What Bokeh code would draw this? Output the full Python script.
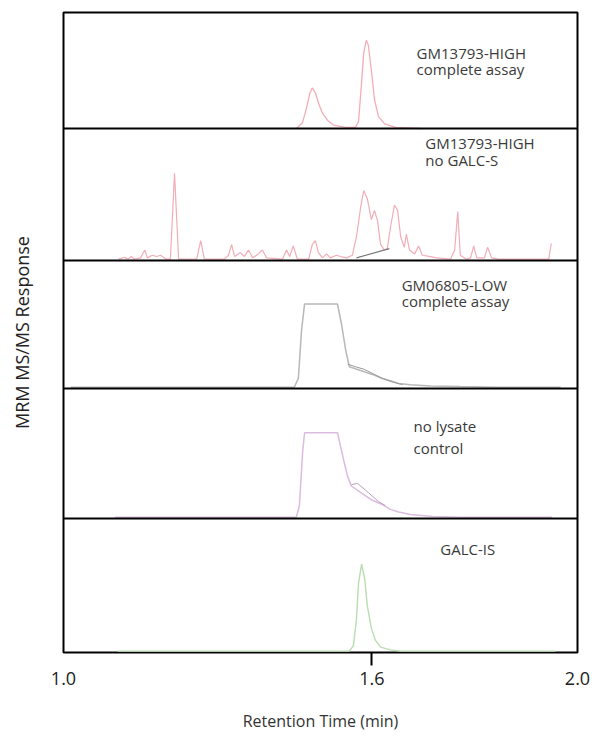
from bokeh.plotting import figure
from bokeh.models import Range1d, FixedTicker, LinearAxis, Span, Grid, NumeralTickFormatter
from bokeh.core.properties import value
from bokeh.embed import file_html
from bokeh.resources import INLINE

# ---------------- data (retention time in min, response in % of panel height) ----------------
rt_high = [1.453, 1.465, 1.473, 1.479, 1.484, 1.490, 1.496, 1.504, 1.514, 1.525, 1.549, 1.568,
           1.574, 1.580, 1.584, 1.589, 1.593, 1.599, 1.605, 1.613, 1.625, 1.646, 1.695]
int_high = [0, 5, 18, 30, 35, 31, 22, 13, 7, 3, 1, 1,
            6, 40, 65, 76, 72, 50, 25, 10, 4, 1, 0]

rt_nos = [1.107, 1.119, 1.125, 1.132, 1.138, 1.150, 1.158, 1.163, 1.173, 1.181, 1.189, 1.200,
          1.208, 1.216, 1.224, 1.259, 1.267, 1.274, 1.313, 1.321, 1.327, 1.333, 1.344, 1.352,
          1.360, 1.368, 1.379, 1.387, 1.395, 1.426, 1.434, 1.440, 1.447, 1.455, 1.477, 1.484,
          1.490, 1.496, 1.504, 1.512, 1.519, 1.531, 1.539, 1.551, 1.562, 1.570, 1.578, 1.584,
          1.591, 1.599, 1.605, 1.611, 1.617, 1.624, 1.630, 1.636, 1.644, 1.650, 1.656, 1.663,
          1.667, 1.673, 1.683, 1.691, 1.698, 1.714, 1.726, 1.753, 1.761, 1.767, 1.772, 1.784,
          1.792, 1.798, 1.804, 1.819, 1.825, 1.833, 1.846, 1.944, 1.949]
int_nos = [1, 2.5, 1, 3, 1, 2, 8, 2, 4, 3, 4, 1,
           1, 66, 1, 1, 15, 1, 1, 4, 12, 3, 6, 3,
           8, 2, 5, 8, 2, 1, 8, 3, 11, 1, 1, 12,
           15, 6, 2, 5, 2, 4, 3, 2, 4, 18, 40, 53,
           47, 31, 38, 30, 12, 8, 9, 25, 42, 38, 18, 10,
           20, 8, 5, 11, 4, 3, 2, 1, 8, 37, 4, 1,
           2, 11, 2, 2, 10, 2, 1, 1, 13]
rt_nos_base = [1.570, 1.634]
int_nos_base = [2, 9]

rt_low = [1.014, 1.449, 1.457, 1.463, 1.469, 1.533, 1.541, 1.549, 1.556, 1.578, 1.601, 1.619,
          1.636, 1.652, 1.675, 1.714, 1.772, 1.850, 1.967]
int_low = [1, 1, 8, 45, 66, 66, 50, 30, 17, 14, 11, 8,
           6, 4, 3, 2, 1.5, 1, 1]
rt_low2 = [1.553, 1.568, 1.585, 1.600, 1.620, 1.640, 1.660]
int_low2 = [19, 17, 15, 12, 8, 5, 3]

rt_nol = [1.100, 1.453, 1.459, 1.465, 1.469, 1.533, 1.541, 1.545, 1.553, 1.560, 1.582, 1.601,
          1.619, 1.636, 1.652, 1.675, 1.718, 1.772, 1.950]
int_nol = [1, 1, 10, 50, 66, 66, 52, 45, 32, 25, 19, 14,
           11, 7, 5, 3, 1.5, 1, 1]
rt_nol2 = [1.560, 1.572, 1.593, 1.613, 1.626]
int_nol2 = [26, 27, 20, 13, 10]

rt_is = [1.105, 1.556, 1.564, 1.570, 1.574, 1.580, 1.586, 1.591, 1.599, 1.607, 1.617, 1.636,
         1.656, 1.957]
int_is = [1, 1, 5, 25, 52, 66, 55, 35, 18, 9, 4, 2, 1, 1]

x_ticks = [1.0, 1.6, 2.0]
marked_tick = [1.6]
panel_titles = [["GM13793-HIGH", "complete assay"],
                ["GM13793-HIGH", "no GALC-S"],
                ["GM06805-LOW", "complete assay"],
                ["no lysate", "control"],
                ["GALC-IS"]]
y_title = "MRM MS/MS Response"
x_title = "Retention Time (min)"

# ---------------- layout ----------------
FRAME_H = 640
# panel bottoms/tops in frame pixels measured from the bottom (top panel first)
panel_edges = [(524, 640), (392, 524), (264, 392), (134, 264), (0, 134)]
title_pos = [(1.687, [65.5, 51.7]), (1.704, [89, 76]), (1.658, [80.5, 68]),
             (1.681, [71.5, 54.6]), (1.733, [77])]

p = figure(frame_width=514, frame_height=FRAME_H,
           x_range=Range1d(1.0, 2.0), y_range=Range1d(0, FRAME_H),
           output_backend="svg", toolbar_location=None,
           x_axis_location=None, y_axis_location=None,
           min_border_left=63, min_border_right=20, min_border_top=12, min_border_bottom=4)
p.background_fill_color = "white"
p.border_fill_color = "white"
p.outline_line_color = "black"
p.outline_line_width = 2
p.center = [r for r in p.center if not isinstance(r, Grid)]

for i, (b, t) in enumerate(panel_edges):
    p.extra_y_ranges["p%d" % i] = Range1d(-b / (t - b) * 100, (FRAME_H - b) / (t - b) * 100)

for b, t in panel_edges[:-1]:
    p.add_layout(Span(location=b, dimension="width", line_color="black", line_width=2))

pink = "#f2adb6"
p.line(rt_high, int_high, y_range_name="p0", line_color=pink, line_width=1.3)
p.line(rt_nos, int_nos, y_range_name="p1", line_color=pink, line_width=1.2)
p.line(rt_nos_base, int_nos_base, y_range_name="p1", line_color="#777777", line_width=1.1)
p.line(rt_low, int_low, y_range_name="p2", line_color="#b8b8b8", line_width=1.5)
p.line(rt_low2, int_low2, y_range_name="p2", line_color="#9a9a9a", line_width=1.0)
p.line(rt_nol, int_nol, y_range_name="p3", line_color="#dbbbdf", line_width=1.5)
p.line(rt_nol2, int_nol2, y_range_name="p3", line_color="#b9a0bd", line_width=1.0)
p.line(rt_is, int_is, y_range_name="p4", line_color="#b8ddb0", line_width=1.4)

for i, lines in enumerate(panel_titles):
    x0, ys = title_pos[i]
    p.text(x=[x0] * len(lines), y=ys, text=lines, y_range_name="p%d" % i,
           text_font=value("Open Sans"), text_font_size="15px", text_color="#3a3a3a",
           text_align="left", text_baseline="middle")

# vertical axis title (axis bounded so that its label sits slightly above centre, as in the source)
yax = LinearAxis(ticker=FixedTicker(ticks=[]), bounds=(42, 640), axis_label=y_title,
                 axis_line_color=None, major_tick_line_color=None, minor_tick_line_color=None,
                 major_label_standoff=0,
                 axis_label_standoff=30, axis_label_text_font="Open Sans",
                 axis_label_text_font_size="18px", axis_label_text_font_style="normal",
                 axis_label_text_color="#222222")
p.add_layout(yax, "left")

xax = LinearAxis(ticker=FixedTicker(ticks=x_ticks, minor_ticks=marked_tick),
                 formatter=NumeralTickFormatter(format="0.0"),
                 axis_line_color=None, major_tick_line_color=None, major_tick_out=0,
                 minor_tick_out=13, minor_tick_in=0, minor_tick_line_width=2,
                 minor_tick_line_color="black",
                 major_label_standoff=6, major_label_text_font="Open Sans",
                 major_label_text_font_size="18px", major_label_text_color="#222222",
                 axis_label=x_title, axis_label_standoff=22,
                 axis_label_text_font="Open Sans", axis_label_text_font_size="16px",
                 axis_label_text_font_style="normal", axis_label_text_color="#333333")
p.add_layout(xax, "below")

open("out.html", "w").write(file_html(p, INLINE))
